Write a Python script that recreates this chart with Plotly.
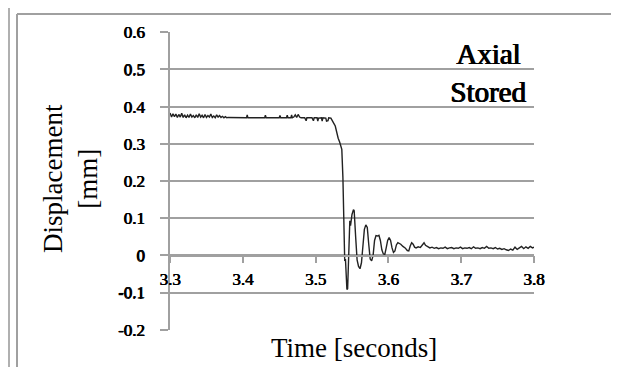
import plotly.graph_objects as go

# ---- data ----
time_s = [
    3.300, 3.302, 3.304, 3.306, 3.308, 3.310, 3.312, 3.314, 3.316, 3.318,
    3.320, 3.322, 3.324, 3.326, 3.328, 3.330, 3.332, 3.334, 3.336, 3.338,
    3.340, 3.342, 3.344, 3.346, 3.348, 3.350, 3.352, 3.354, 3.356, 3.358,
    3.360, 3.362, 3.364, 3.366, 3.368, 3.370, 3.372, 3.374, 3.376, 3.378,
    3.380, 3.390, 3.400, 3.405, 3.406, 3.407, 3.430, 3.431, 3.432, 3.450,
    3.451, 3.452, 3.460, 3.461, 3.462, 3.466, 3.467, 3.468, 3.470, 3.472,
    3.474, 3.476, 3.478, 3.480, 3.485, 3.487, 3.488, 3.495, 3.497, 3.498,
    3.502, 3.503, 3.504, 3.508, 3.509, 3.510, 3.514, 3.515, 3.517, 3.518,
    3.521, 3.523, 3.525, 3.527, 3.529, 3.531, 3.533, 3.535, 3.536, 3.5375,
    3.539, 3.540, 3.541, 3.542, 3.543, 3.544, 3.545, 3.546, 3.547, 3.548,
    3.550, 3.552, 3.553, 3.555, 3.557, 3.559, 3.561, 3.563, 3.565, 3.567,
    3.569, 3.571, 3.573, 3.575, 3.577, 3.579, 3.581, 3.583, 3.585, 3.587,
    3.589, 3.591, 3.593, 3.595, 3.597, 3.599, 3.601, 3.603, 3.605, 3.607,
    3.609, 3.611, 3.613, 3.615, 3.617, 3.620, 3.623, 3.626, 3.628, 3.630,
    3.632, 3.634, 3.636, 3.638, 3.641, 3.644, 3.647, 3.649, 3.651, 3.654,
    3.657, 3.660, 3.663, 3.666, 3.669, 3.672, 3.675, 3.678, 3.681, 3.684,
    3.687, 3.690, 3.693, 3.696, 3.699, 3.702, 3.705, 3.708, 3.711, 3.714,
    3.717, 3.720, 3.723, 3.726, 3.729, 3.732, 3.735, 3.738, 3.741, 3.744,
    3.747, 3.750, 3.753, 3.756, 3.759, 3.762, 3.765, 3.768, 3.771, 3.774,
    3.777, 3.780, 3.783, 3.786, 3.789, 3.792, 3.795, 3.798, 3.800,
]
displacement_mm = [
    0.383, 0.372, 0.381, 0.373, 0.380, 0.371, 0.379, 0.372, 0.382, 0.371,
    0.378, 0.370, 0.377, 0.371, 0.380, 0.372, 0.376, 0.370, 0.378, 0.371,
    0.381, 0.372, 0.377, 0.370, 0.379, 0.371, 0.376, 0.372, 0.380, 0.371,
    0.375, 0.370, 0.378, 0.372, 0.376, 0.371, 0.374, 0.370, 0.373, 0.370,
    0.371, 0.370, 0.370, 0.370, 0.378, 0.370, 0.370, 0.377, 0.370, 0.370,
    0.376, 0.370, 0.370, 0.377, 0.370, 0.370, 0.378, 0.370, 0.372, 0.378,
    0.371, 0.379, 0.372, 0.370, 0.370, 0.362, 0.370, 0.370, 0.362, 0.370,
    0.370, 0.361, 0.369, 0.370, 0.361, 0.370, 0.369, 0.361, 0.362, 0.370,
    0.369, 0.360, 0.355, 0.348, 0.330, 0.315, 0.305, 0.295, 0.285, 0.210,
    0.010, -0.015, -0.010, -0.060, -0.092, -0.090, -0.020, 0.060, 0.093, 0.080,
    0.110, 0.123, 0.120, 0.050, -0.012, -0.030, -0.036, -0.020, 0.040, 0.070,
    0.082, 0.075, 0.030, -0.010, -0.015, 0.000, 0.040, 0.053, 0.052, 0.054,
    0.040, 0.015, 0.004, 0.002, 0.020, 0.040, 0.048, 0.040, 0.020, 0.008,
    0.012, 0.028, 0.034, 0.033, 0.030, 0.024, 0.020, 0.013, 0.012, 0.025,
    0.034, 0.030, 0.022, 0.020, 0.023, 0.021, 0.028, 0.034, 0.027, 0.024,
    0.020, 0.022, 0.019, 0.021, 0.018, 0.020, 0.019, 0.022, 0.018, 0.020,
    0.021, 0.018, 0.020, 0.019, 0.022, 0.018, 0.020, 0.019, 0.021, 0.018,
    0.023, 0.019, 0.020, 0.018, 0.021, 0.019, 0.024, 0.019, 0.020, 0.018,
    0.021, 0.017, 0.019, 0.016, 0.018, 0.015, 0.013, 0.017, 0.014, 0.022,
    0.016, 0.020, 0.024, 0.018, 0.023, 0.019, 0.024, 0.020, 0.022,
]
x_tick_vals = [3.3, 3.4, 3.5, 3.6, 3.7, 3.8]
x_tick_text = ["3.3", "3.4", "3.5", "3.6", "3.7", "3.8"]
y_tick_vals = [-0.2, -0.1, 0, 0.1, 0.2, 0.3, 0.4, 0.5, 0.6]
y_tick_text = ["-0.2", "-0.1", "0", "0.1", "0.2", "0.3", "0.4", "0.5", "0.6"]

# ---- layout geometry (pixels) ----
W, H = 619, 367
L, R, T, B = 162, 526, 24, 322
GRID = "#a0a0a0"
FONT = "Liberation Serif"
# faux-bold for the serif face
FAUX_BOLD = "0.6px 0 0 #000, 0 0.2px 0 #000"
FAUX_BOLD_BIG = "1px 0 0 #000, 0 0.4px 0 #000"


def px(xp):
    return (xp - L) / (R - L)


def py(yp):
    return (B - yp) / (B - T)


fig = go.Figure()
fig.add_trace(go.Scatter(
    x=time_s, y=displacement_mm, mode="lines",
    line=dict(color="#222222", width=1.4),
    showlegend=False, hoverinfo="skip",
))

fig.update_layout(
    width=W, height=H,
    margin=dict(l=L, r=W - R, t=T, b=H - B),
    paper_bgcolor="white", plot_bgcolor="white",
    xaxis=dict(
        range=[3.2999, 3.8001], tickvals=x_tick_vals, ticktext=x_tick_text,
        showgrid=False, zeroline=False,
        showline=True, linecolor=GRID, linewidth=1.5,
        ticks="outside", ticklen=7, tickwidth=1.5, tickcolor=GRID,
        anchor="free", position=0.25,
        ticklabelstandoff=1,
        tickfont=dict(family=FONT, size=17, color="black", shadow=FAUX_BOLD),
    ),
    yaxis=dict(
        range=[-0.2008, 0.6008], tickvals=y_tick_vals, ticktext=y_tick_text,
        showgrid=True, gridcolor=GRID, gridwidth=1.5, zeroline=False,
        showline=True, linecolor=GRID, linewidth=1.5,
        ticks="outside", ticklen=8, tickwidth=1.5, tickcolor=GRID,
        ticklabelstandoff=12,
        tickfont=dict(family=FONT, size=17, color="black", shadow=FAUX_BOLD),
    ),
    annotations=[
        dict(text="Time [seconds]", xref="paper", yref="paper",
             x=px(346), y=py(340), xanchor="center", yanchor="middle",
             showarrow=False, font=dict(family=FONT, size=27, color="black")),
        dict(text="Displacement<br>[mm]", xref="paper", yref="paper",
             x=px(62), y=py(170), xanchor="center", yanchor="middle",
             textangle=-90, showarrow=False, align="center",
             font=dict(family=FONT, size=27, color="black")),
        dict(text="Axial", xref="paper", yref="paper",
             x=px(480), y=py(46), xanchor="center", yanchor="middle",
             showarrow=False,
             font=dict(family=FONT, size=29, color="black", shadow=FAUX_BOLD_BIG)),
        dict(text="Stored", xref="paper", yref="paper",
             x=px(480), y=py(84), xanchor="center", yanchor="middle",
             showarrow=False,
             font=dict(family=FONT, size=29, color="black", shadow=FAUX_BOLD_BIG)),
    ],
    shapes=[
        dict(type="line", xref="paper", yref="paper",
             x0=px(1), x1=px(1), y0=py(0), y1=py(H),
             line=dict(color="#b0b0b0", width=2)),
        dict(type="line", xref="paper", yref="paper",
             x0=px(9), x1=px(9), y0=py(6), y1=py(H),
             line=dict(color="#a0a0a0", width=2)),
        dict(type="line", xref="paper", yref="paper",
             x0=px(9), x1=px(W), y0=py(6), y1=py(6),
             line=dict(color="#a0a0a0", width=2)),
    ],
)

fig.write_html("out.html")
